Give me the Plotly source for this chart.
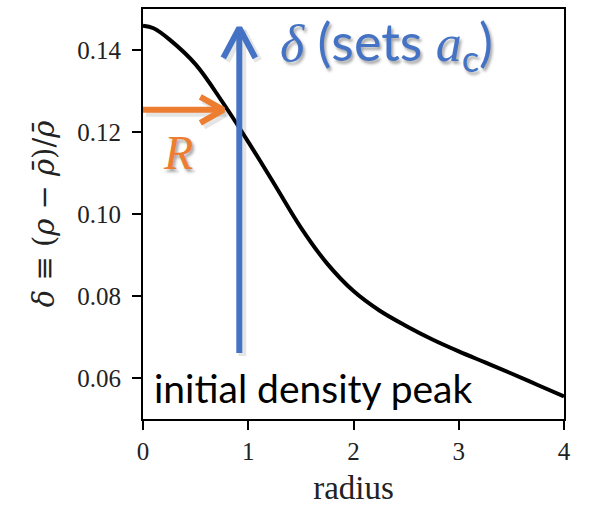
import plotly.graph_objects as go

# Initial density contrast profile
radius = [0.0, 0.1, 0.25, 0.5, 0.75, 1.0, 1.25, 1.5, 1.75, 2.0, 2.25, 2.5,
          2.75, 3.0, 3.25, 3.5, 3.75, 4.0]
delta = [0.1459, 0.1453, 0.1426, 0.1365, 0.1275, 0.1176, 0.1072, 0.0967,
         0.0879, 0.0812, 0.0764, 0.0727, 0.0694, 0.0665, 0.0638, 0.0611,
         0.0583, 0.0555]

x_ticks = [0, 1, 2, 3, 4]
y_ticks = [0.06, 0.08, 0.10, 0.12, 0.14]
y_tick_text = ["0.06", "0.08", "0.10", "0.12", "0.14"]

# Arrow annotations (base, tip) in data units
delta_arrow = dict(x=0.915, y0=0.0661, y1=0.1454)
r_arrow = dict(y=0.1254, x0=0.0, x1=0.763)

BLUE = "#4472C4"
ORANGE = "#ED7D31"

X_RANGE = [0, 4]
Y_RANGE = [0.05, 0.15]
W, H = 590, 506
M = dict(l=143, r=26, t=9, b=87)
px_x = (X_RANGE[1] - X_RANGE[0]) / (W - M["l"] - M["r"])
px_y = (Y_RANGE[1] - Y_RANGE[0]) / (H - M["t"] - M["b"])

fig = go.Figure()

fig.add_trace(go.Scatter(x=radius, y=delta, mode="lines", line_shape="spline",
                         line=dict(color="black", width=4), hoverinfo="skip"))


def arrow(x0, y0, x1, y1, color, head_back, head_side, vertical):
    """Shaft plus open chevron head, with a soft offset shadow."""
    if vertical:
        hx = [x1 - head_side * px_x, x1, x1 + head_side * px_x]
        hy = [y1 - head_back * px_y, y1, y1 - head_back * px_y]
    else:
        hx = [x1 - head_back * px_x, x1, x1 - head_back * px_x]
        hy = [y1 + head_side * px_y, y1, y1 - head_side * px_y]
    for dx, dy, c, w in [(3, -3, "rgba(0,0,0,0.10)", 8), (0, 0, color, 6)]:
        fig.add_trace(go.Scatter(x=[x0 + dx * px_x, x1 + dx * px_x],
                                 y=[y0 + dy * px_y, y1 + dy * px_y],
                                 mode="lines", line=dict(color=c, width=w),
                                 hoverinfo="skip"))
        fig.add_trace(go.Scatter(x=[v + dx * px_x for v in hx],
                                 y=[v + dy * px_y for v in hy],
                                 mode="lines", line=dict(color=c, width=w),
                                 hoverinfo="skip"))


arrow(delta_arrow["x"], delta_arrow["y0"], delta_arrow["x"], delta_arrow["y1"],
      BLUE, 30, 16, True)
arrow(r_arrow["x0"], r_arrow["y"], r_arrow["x1"], r_arrow["y"],
      ORANGE, 23, 13, False)

SHADOW = "2px 3px 3px rgba(0,0,0,0.35)"

fig.add_annotation(
    x=1.28, y=0.1412, xanchor="left", yanchor="middle", showarrow=False,
    text=("<span style='font-family:Liberation Serif'><i>δ</i></span> (sets "
          "<span style='font-family:Liberation Serif'><i>a</i></span><sub>c</sub>)"),
    font=dict(family="Lato", size=52, color=BLUE, shadow=SHADOW))

fig.add_annotation(
    x=(178 - M["l"]) * px_x, y=0.1151, xanchor="center", yanchor="middle",
    showarrow=False, text="<i>R</i>",
    font=dict(family="Liberation Serif", size=48, color=ORANGE, shadow=SHADOW))

fig.add_annotation(
    x=0.085, y=0.0576, xanchor="left", yanchor="middle", showarrow=False,
    text="initial density peak",
    font=dict(family="Lato", size=39, color="black"))

axis_common = dict(showline=True, linecolor="black", linewidth=2, mirror=True,
                   ticks="outside", ticklen=9, tickwidth=2, tickcolor="black",
                   showgrid=False, zeroline=False, automargin=False,
                   tickfont=dict(family="Liberation Serif", size=25, color="#222"))

fig.update_xaxes(range=X_RANGE, tickvals=x_ticks, **axis_common,
                 title=dict(text="radius", standoff=14,
                            font=dict(family="Liberation Serif", size=33, color="#222")))
fig.update_yaxes(range=Y_RANGE, tickvals=y_ticks, ticktext=y_tick_text, **axis_common,
                 ticklabelstandoff=6,
                 title=dict(text="<i>δ</i> ≡ (<i>ρ</i> − <i>ρ̄</i>)/<i>ρ̄</i>", standoff=14,
                            font=dict(family="DejaVu Serif", size=29, color="#222")))

fig.update_layout(width=W, height=H, margin=M, showlegend=False,
                  plot_bgcolor="white", paper_bgcolor="white")

fig.write_html("out.html")
